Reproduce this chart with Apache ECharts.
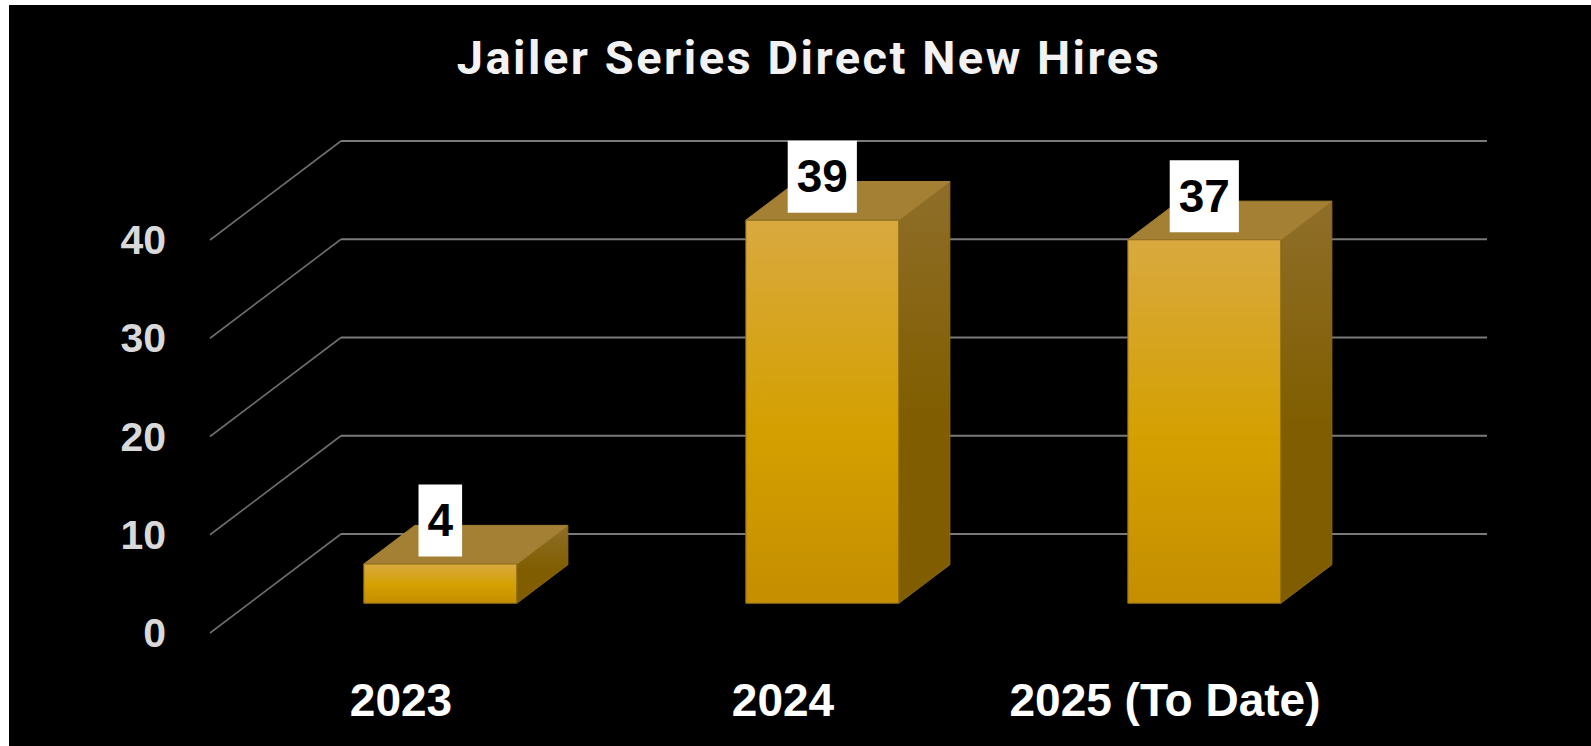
<!DOCTYPE html>
<html><head><meta charset="utf-8">
<style>
html,body{margin:0;padding:0;width:1591px;height:746px;background:#fff;overflow:hidden}
#plate{position:absolute;left:9px;top:5px;right:0;bottom:0;background:#000}
#chart{position:absolute;left:0;top:0;width:1591px;height:746px}
#chart text[style*="47px"]{letter-spacing:2.5px}
</style>
<script src="https://cdn.jsdelivr.net/npm/echarts@6/dist/echarts.min.js"></script>
</head><body>
<div id="plate"></div><div id="chart"></div>
<script>
const titleText = 'Jailer Series Direct New Hires';
const categories = ['2023', '2024', '2025 (To Date)'];
const hires = [4, 39, 37];
const yTicks = [0, 10, 20, 30, 40];

const DEPTH = [131, 99];        // floor depth in px
const BAR_NEAR = 0.30, BAR_FAR = 0.69;
const BAR_W = 153;
const pt = (p, f) => [p[0] + DEPTH[0] * f, p[1] - DEPTH[1] * f];
const chart = echarts.init(document.getElementById('chart'), null, {renderer: 'svg'});

function renderWall(params, api) {
  const v = api.value(1);
  const band = api.size([1, 0])[0];
  const c0 = api.coord([0, v]);
  const c2 = api.coord([categories.length - 1, v]);
  const a = [c0[0] - band / 2, c0[1]];
  const b = pt(a, 1);
  const e = [c2[0] + band / 2 + DEPTH[0], b[1]];
  return {type: 'group', children: [
    {type: 'polyline', shape: {points: [a, b]}, style: {fill: null, stroke: '#6e6e6e', lineWidth: 1.6}},
    {type: 'polyline', shape: {points: [b, e]}, style: {fill: null, stroke: '#7a7a7a', lineWidth: 2}}
  ]};
}

function renderBar(params, api) {
  const i = api.value(0), v = api.value(1);
  const top = api.coord([i, v]), bot = api.coord([i, 0]);
  const tl0 = [top[0] - BAR_W / 2, top[1]], tr0 = [top[0] + BAR_W / 2, top[1]];
  const bl0 = [bot[0] - BAR_W / 2, bot[1]], br0 = [bot[0] + BAR_W / 2, bot[1]];
  const n = p => pt(p, BAR_NEAR);
  const f = p => pt(p, BAR_FAR);
  const cx = (n(tl0)[0] + n(tr0)[0]) / 2;
  const edge = {stroke: '#8a6a18', lineWidth: 1};
  const front = new echarts.graphic.LinearGradient(0, 0, 0, 1, [
    {offset: 0, color: '#d9a93f'}, {offset: 0.55, color: '#d4a000'}, {offset: 1, color: '#c48e00'}]);
  const side = new echarts.graphic.LinearGradient(0, 0, 0, 1, [
    {offset: 0, color: '#8f6e2a'}, {offset: 0.55, color: '#805e00'}, {offset: 1, color: '#7f5d00'}]);
  return {type: 'group', children: [
    {type: 'polygon', shape: {points: [n(tr0), f(tr0), f(br0), n(br0)]}, style: Object.assign({fill: side}, edge)},
    {type: 'polygon', shape: {points: [n(tl0), f(tl0), f(tr0), n(tr0)]}, style: {fill: '#a38033', stroke: '#a38033', lineWidth: 1}},
    {type: 'polygon', shape: {points: [n(tl0), n(tr0), n(br0), n(bl0)]}, style: Object.assign({fill: front}, edge)},
    {type: 'text', z2: 10, x: cx, y: n(tl0)[1] - 7.5, style: {
      text: String(v), align: 'center', verticalAlign: 'bottom',
      font: 'bold 46px "Liberation Sans"', fill: '#000', backgroundColor: '#fff',
      padding: [12.5, 9, 13.5, 9], lineHeight: 46
    }}
  ]};
}

chart.setOption({
  animation: false,
  backgroundColor: 'transparent',
  title: {
    text: titleText, left: 804, top: 27, textAlign: 'center',
    textStyle: {color: '#f2f2f2', fontFamily: 'Roboto', fontWeight: 'bold', fontSize: 47, lineHeight: 50}
  },
  grid: {left: 210, right: 235, top: 240, bottom: 113},
  xAxis: {
    type: 'category', data: categories,
    axisLine: {show: false}, axisTick: {show: false}, splitLine: {show: false},
    axisLabel: {interval: 0, color: '#fff', fontFamily: '"Liberation Sans"', fontWeight: 'bold', fontSize: 46, margin: 44, hideOverlap: false}
  },
  yAxis: {
    type: 'value', min: 0, max: 40, interval: 10,
    axisLine: {show: false}, axisTick: {show: false}, splitLine: {show: false},
    axisLabel: {color: '#d9d9d9', fontFamily: '"Liberation Sans"', fontWeight: 'bold', fontSize: 41, margin: 44, padding: [1, 0, 0, 0]}
  },
  series: [
    {type: 'custom', name: 'walls', silent: true, clip: false, z: 1,
     data: yTicks.map(t => [0, t]), encode: {x: 0, y: 1}, renderItem: renderWall},
    {type: 'custom', name: 'Direct New Hires', silent: true, clip: false, z: 2,
     data: hires.map((h, i) => [i, h]), encode: {x: 0, y: 1}, renderItem: renderBar}
  ]
});
</script>
</body></html>
